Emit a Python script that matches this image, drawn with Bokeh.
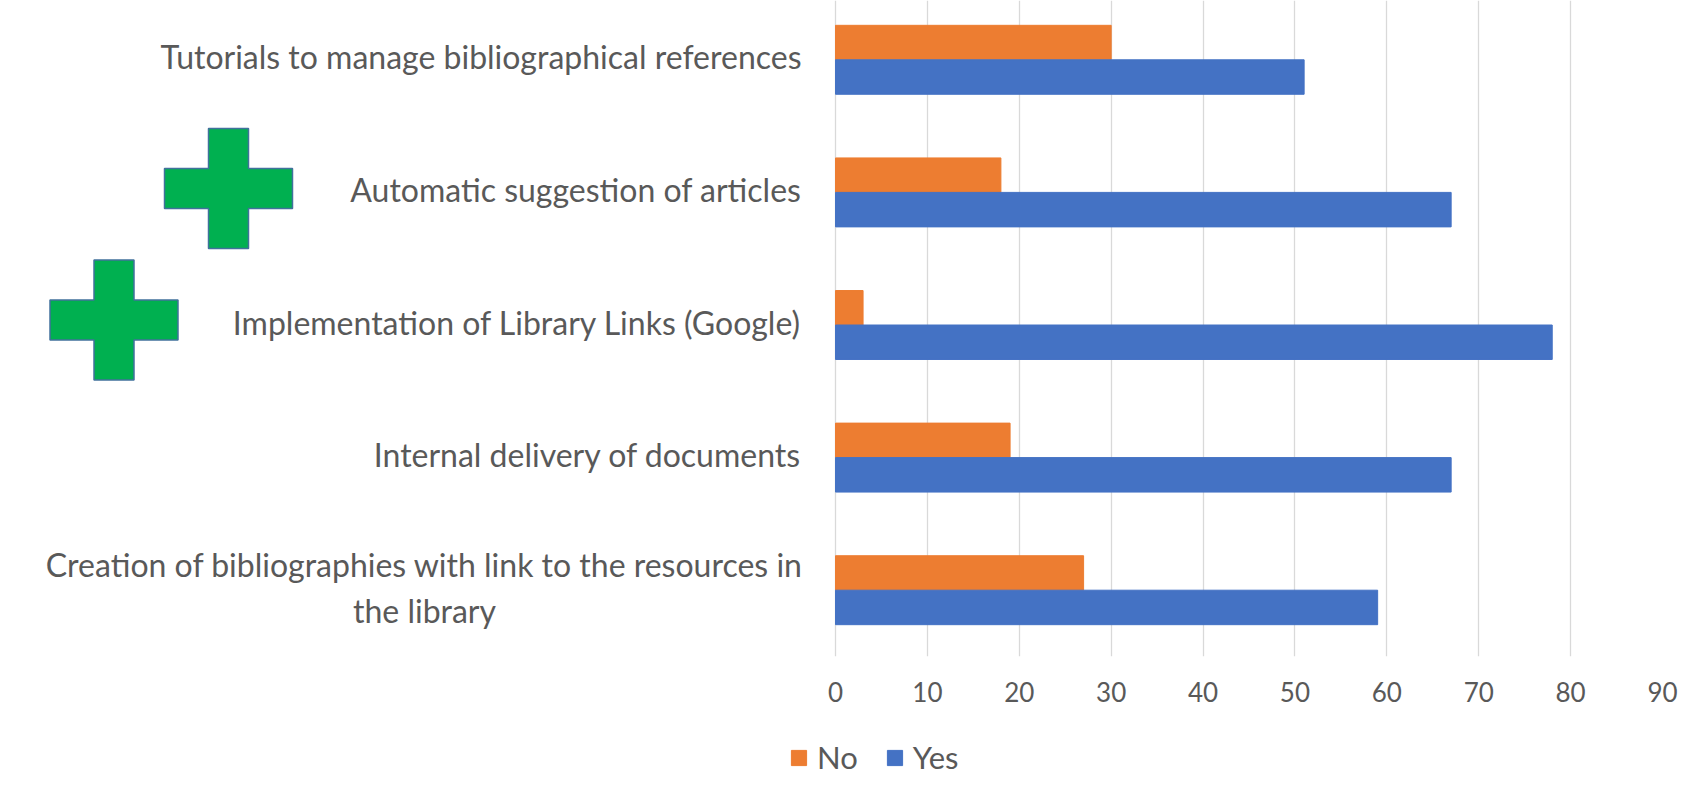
from bokeh.plotting import figure
from bokeh.layouts import column
from bokeh.models import (Range1d, ColumnDataSource, FixedTicker, Legend,
                          LegendItem)
from bokeh.core.properties import value
from bokeh.transform import dodge
from bokeh.embed import file_html
from bokeh.resources import INLINE

# ---- data ----
categories = [
    "Creation of bibliographies with link to the resources in\nthe library",
    "Internal delivery of documents",
    "Implementation of Library Links (Google)",
    "Automatic suggestion of articles",
    "Tutorials to manage bibliographical references",
]
no_values = [27, 19, 3, 18, 30]
yes_values = [59, 67, 78, 67, 51]
x_ticks = [0, 10, 20, 30, 40, 50, 60, 70, 80, 90]
series_names = ["No", "Yes"]

# ---- styles / layout ----
ORANGE = "#ED7D31"
BLUE = "#4472C4"
TEXT = "#595959"
GRID = "#D9D9D9"
FONT = "Lato"
BAR_H = 0.26

W = 1687
H_MAIN = 720
H_LEG = 90
AXIS_PX = 835          # pixel where value 0 sits
RIGHT_PX = 1662        # pixel where value 90 sits
FRAME_BOTTOM = 656
TOP_OVERSHOOT = 7      # px of the category band above the canvas top

x_max = x_ticks[-1]
u_per_px = x_max / (RIGHT_PX - AXIS_PX)
x_start = -AXIS_PX * u_per_px
n = len(categories)
band_px = (FRAME_BOTTOM + TOP_OVERSHOOT) / n
y_top = n - 0.5 - TOP_OVERSHOOT / band_px


def px2x(px):
    return (px - AXIS_PX) * u_per_px


def px2y(py):
    return y_top - py / band_px


ypos = list(range(n))
src = ColumnDataSource(dict(y=ypos, no=no_values, yes=yes_values))

p = figure(width=W, height=H_MAIN,
           x_range=Range1d(x_start, x_max), y_range=Range1d(-0.5, y_top),
           output_backend="svg", toolbar_location=None,
           y_axis_location=None,
           min_border_left=0, min_border_right=W - RIGHT_PX,
           min_border_top=0, min_border_bottom=H_MAIN - FRAME_BOTTOM)
p.outline_line_color = None
p.background_fill_color = "white"
p.border_fill_color = "white"

# grid
p.ygrid.grid_line_color = None
p.xgrid.grid_line_color = GRID
p.xgrid.grid_line_width = 1.3
p.xgrid.ticker = FixedTicker(ticks=x_ticks)

# bars
p.hbar(y=dodge("y", BAR_H / 2), left=0, right="no", height=BAR_H,
       fill_color=ORANGE, line_color=ORANGE, source=src)
p.hbar(y=dodge("y", -BAR_H / 2), left=0, right="yes", height=BAR_H,
       fill_color=BLUE, line_color=BLUE, source=src)

# category labels (left of the value axis)
lab_x, lab_align = [], []
for c in categories:
    if "\n" in c:
        lab_x.append(px2x(424))
        lab_align.append("center")
    else:
        lab_x.append(px2x(AXIS_PX - 34))
        lab_align.append("right")
lab_src = ColumnDataSource(dict(x=lab_x, y=ypos, text=categories, align=lab_align))
p.text(x="x", y="y", text="text", text_align="align", text_baseline="middle",
       y_offset=-3,
       text_font=value(FONT), text_font_size="32px", text_color=TEXT,
       text_line_height=1.17, source=lab_src)

# x axis
xa = p.xaxis[0]
xa.ticker = FixedTicker(ticks=x_ticks)
xa.axis_line_color = None
xa.major_tick_line_color = None
xa.minor_tick_line_color = None
xa.major_tick_out = 0
xa.major_tick_in = 0
xa.minor_tick_out = 0
xa.major_label_standoff = 25
xa.major_label_text_font = FONT
xa.major_label_text_font_size = "26px"
xa.major_label_text_color = TEXT


# decorative green crosses (pixel geometry -> data coords)
def cross(cx, cy, w, h, t):
    xs = [cx - t / 2, cx + t / 2, cx + t / 2, cx + w / 2, cx + w / 2, cx + t / 2,
          cx + t / 2, cx - t / 2, cx - t / 2, cx - w / 2, cx - w / 2, cx - t / 2]
    ys = [cy - h / 2, cy - h / 2, cy - t / 2, cy - t / 2, cy + t / 2, cy + t / 2,
          cy + h / 2, cy + h / 2, cy + t / 2, cy + t / 2, cy - t / 2, cy - t / 2]
    return [px2x(v) for v in xs], [px2y(v) for v in ys]


cx_list, cy_list = [], []
for cx, cy in [(228, 188), (113.5, 319.5)]:
    xs, ys = cross(cx, cy, 128, 120, 40)
    cx_list.append(xs)
    cy_list.append(ys)
p.patches(xs=cx_list, ys=cy_list, fill_color="#00B050", line_color="#41719C",
          line_width=1.5)

# ---- legend strip below the chart ----
q = figure(width=W, height=H_LEG, x_range=Range1d(0, 1), y_range=Range1d(0, 1),
           output_backend="svg", toolbar_location=None,
           x_axis_location=None, y_axis_location=None,
           min_border_left=0, min_border_right=0,
           min_border_top=0, min_border_bottom=0)
q.outline_line_color = None
q.xgrid.visible = False
q.ygrid.visible = False
# swatch renderers placed outside the visible range (only used by the legend)
swatch_no = q.hbar(y=[-5], left=[0], right=[1], height=0.1,
                   fill_color=ORANGE, line_color=ORANGE)
swatch_yes = q.hbar(y=[-5], left=[0], right=[1], height=0.1,
                    fill_color=BLUE, line_color=BLUE)

legend = Legend(items=[LegendItem(label=series_names[0], renderers=[swatch_no]),
                       LegendItem(label=series_names[1], renderers=[swatch_yes])],
                orientation="horizontal", location=(789, 34))
legend.glyph_width = 19
legend.glyph_height = 19
legend.label_standoff = 9
legend.spacing = 27
legend.padding = 0
legend.margin = 0
legend.border_line_color = None
legend.background_fill_alpha = 0
legend.label_text_font = FONT
legend.label_text_font_size = "31px"
legend.label_text_color = TEXT
q.add_layout(legend)

layout = column(p, q, spacing=0)
open("out.html", "w").write(file_html(layout, INLINE))
